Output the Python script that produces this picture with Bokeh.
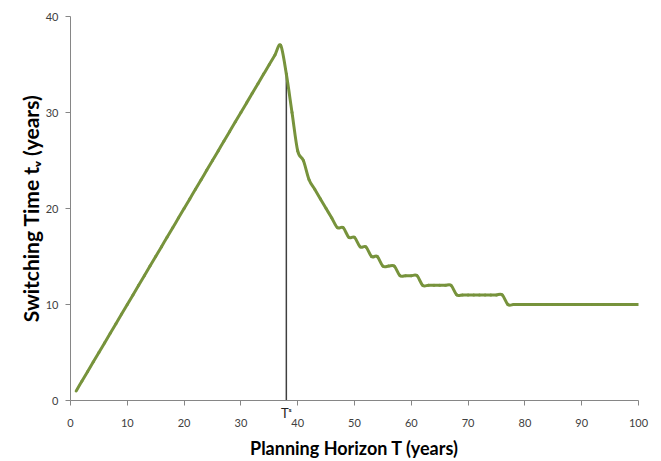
from bokeh.plotting import figure
from bokeh.models import FixedTicker, Range1d, LinearAxis
from bokeh.embed import file_html
from bokeh.resources import INLINE

# ---- data -------------------------------------------------------------
T = list(range(1, 101))
tv = [1, 2, 3, 4, 5, 6, 7, 8, 9, 10,
      11, 12, 13, 14, 15, 16, 17, 18, 19, 20,
      21, 22, 23, 24, 25, 26, 27, 28, 29, 30,
      31, 32, 33, 34, 35, 36, 37, 34, 30, 26,
      25, 23, 22, 21, 20, 19, 18, 18, 17, 17,
      16, 16, 15, 15, 14, 14, 14, 13, 13, 13,
      13, 12, 12, 12, 12, 12, 12, 11, 11, 11,
      11, 11, 11, 11, 11, 11, 10, 10, 10, 10,
      10, 10, 10, 10, 10, 10, 10, 10, 10, 10,
      10, 10, 10, 10, 10, 10, 10, 10, 10, 10]
T_s = 38
T_s_label = "T\u02e2"
x_ticks = [0, 10, 20, 30, 40, 50, 60, 70, 80, 90, 100]
y_ticks = [0, 10, 20, 30, 40]

FONT = "Lato"
AXIS_GREY = "#868686"

p = figure(width=655, height=461, output_backend="svg", toolbar_location=None,
           x_range=Range1d(0, 100), y_range=Range1d(0, 40),
           min_border_left=70, min_border_right=17, min_border_top=16,
           min_border_bottom=61)
p.outline_line_color = None
p.xgrid.grid_line_color = None
p.ygrid.grid_line_color = None

# ---- y axis
ya = p.yaxis[0]
ya.ticker = FixedTicker(ticks=y_ticks)
ya.minor_tick_line_color = None
ya.major_tick_in = 0
ya.major_tick_out = 5
ya.axis_line_color = AXIS_GREY
ya.major_tick_line_color = AXIS_GREY
ya.major_label_text_font = FONT
ya.major_label_text_font_size = "11px"
ya.major_label_text_color = "#404040"
ya.major_label_standoff = 7
ya.axis_label = "Switching Time t\u1d65 (years)"
ya.axis_label_text_font = FONT
ya.axis_label_text_font_style = "bold"
ya.axis_label_text_font_size = "21px"
ya.axis_label_text_color = "black"
ya.axis_label_standoff = 0

# ---- x axis A (next to frame): axis line, tick marks, T^s label
xa = p.xaxis[0]
xa.ticker = FixedTicker(ticks=[T_s], minor_ticks=x_ticks)
xa.major_label_overrides = {T_s: T_s_label}
xa.major_tick_line_color = None
xa.major_tick_in = 0
xa.major_tick_out = 0
xa.minor_tick_in = 0
xa.minor_tick_out = 5
xa.minor_tick_line_color = AXIS_GREY
xa.axis_line_color = AXIS_GREY
xa.major_label_text_font = FONT
xa.major_label_text_font_size = "13px"
xa.major_label_text_color = "#222222"
xa.major_label_standoff = -1

# ---- x axis B: numeric tick labels and title
xb = LinearAxis(ticker=FixedTicker(ticks=x_ticks))
xb.axis_line_color = None
xb.major_tick_line_color = None
xb.minor_tick_line_color = None
xb.major_tick_in = 0
xb.major_tick_out = 0
xb.major_label_text_font = FONT
xb.major_label_text_font_size = "11px"
xb.major_label_text_color = "#404040"
xb.major_label_standoff = -5
xb.axis_label = "Planning Horizon T (years)"
xb.axis_label_text_font = FONT
xb.axis_label_text_font_style = "bold"
xb.axis_label_text_font_size = "18px"
xb.axis_label_text_color = "black"
xb.axis_label_standoff = 7
p.add_layout(xb, "below")

# vertical marker at T^s
ts_val = tv[T.index(T_s)]
p.segment(x0=[T_s], y0=[0], x1=[T_s], y1=[ts_val], line_color="#404040", line_width=1.5)

# smoothed line (Excel-style cardinal spline through the data points)
n = len(T)
x0, y0, x1, y1, cx0, cy0, cx1, cy1 = [], [], [], [], [], [], [], []
for i in range(n - 1):
    a = max(i - 1, 0)
    d = min(i + 2, n - 1)
    x0.append(T[i]); y0.append(tv[i])
    x1.append(T[i + 1]); y1.append(tv[i + 1])
    cx0.append(T[i] + (T[i + 1] - T[a]) / 6)
    cy0.append(tv[i] + (tv[i + 1] - tv[a]) / 6)
    cx1.append(T[i + 1] - (T[d] - T[i]) / 6)
    cy1.append(tv[i + 1] - (tv[d] - tv[i]) / 6)
p.bezier(x0=x0, y0=y0, x1=x1, y1=y1, cx0=cx0, cy0=cy0, cx1=cx1, cy1=cy1,
         line_color="#77933C", line_width=3, line_cap="round")

open("out.html", "w").write(file_html(p, INLINE))
